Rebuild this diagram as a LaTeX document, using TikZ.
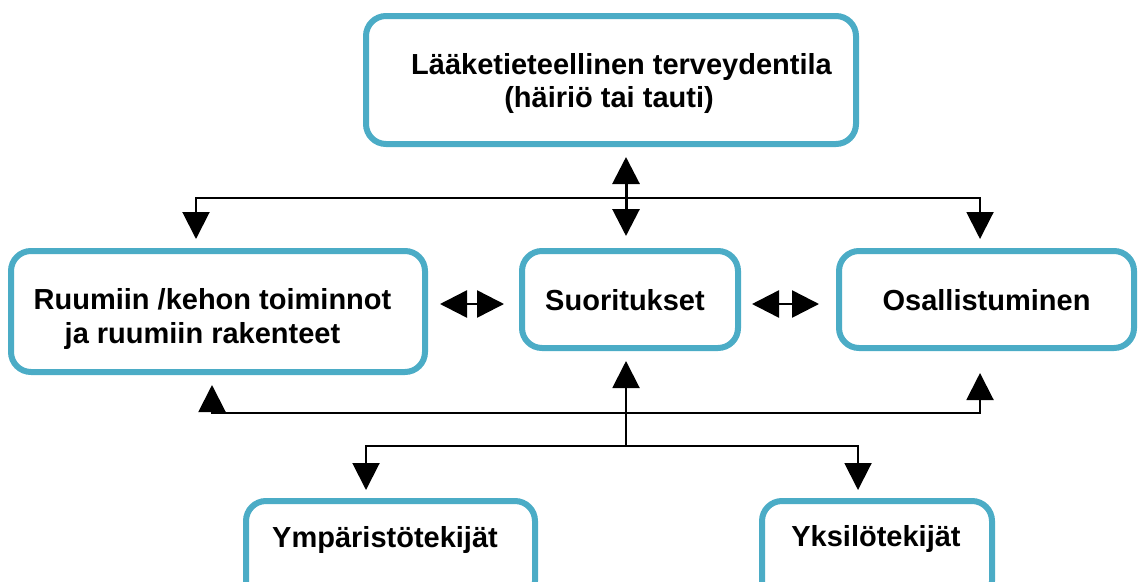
\documentclass[tikz,border=0pt]{standalone}
\usepackage{fontspec}
\setmainfont{Liberation Sans}
\usetikzlibrary{arrows.meta,calc}
\definecolor{boxblue}{RGB}{75,172,198}
\begin{document}
\begin{tikzpicture}[x=1pt,y=-1pt,
  >={Triangle[length=27pt,width=27pt]},
  box/.style={draw=boxblue, line width=6pt, rounded corners=20pt, fill=white, inner sep=0pt, rectangle},
  txt/.style={font=\fontsize{29}{34}\selectfont\bfseries, inner sep=0pt, anchor=base},
  conn/.style={line width=2pt, black},
  dblv/.style={line width=3pt, black, <->},
  dblh/.style={line width=2.5pt, black, <->}]
\useasboundingbox (0,0) rectangle (1139,581);
\clip (0,0) rectangle (1139,581);
% boxes
\node[box, minimum width=490pt, minimum height=128pt] (top) at (611,80) {};
\node[box, minimum width=414pt, minimum height=121pt] (left) at (218,311.5) {};
\node[box, minimum width=216pt, minimum height=97pt] (mid) at (630,299.5) {};
\node[box, minimum width=295pt, minimum height=97pt] (right) at (986.5,299.5) {};
\node[box, minimum width=289pt, minimum height=100pt] (envf) at (390.5,551) {};
\node[box, minimum width=230pt, minimum height=100pt] (persf) at (877,551) {};
% texts
\node[txt] (topA) at (621.5,74) {Lääketieteellinen terveydentila};
\node[txt] (topB) at (609,107.5) {(häiriö tai tauti)};
\node[txt] (leftA) at (212.5,309) {Ruumiin /kehon toiminnot};
\node[txt] (leftB) at (202.5,343) {ja ruumiin rakenteet};
\node[txt] (midT) at (625,310) {Suoritukset};
\node[txt] (rightT) at (986.5,310) {Osallistuminen};
\node[txt] (envT) at (385,547) {Ympäristötekijät};
\node[txt] (persT) at (876,546) {Yksilötekijät};
% coordinates
\coordinate (hubT) at (626,198);
\coordinate (dnL) at (196,239);
\coordinate (dnR) at (980,239);
\coordinate (rowY) at (0,304);
\coordinate (hubB) at (626,446);
\coordinate (busL) at (212,413);
\coordinate (busR) at (980,413);
\coordinate (upL) at (212,385);
\coordinate (upR) at (980,373);
\coordinate (upM) at (626,361);
\coordinate (dnEnv) at (366,490);
\coordinate (dnPers) at (858,490);
% connectors
\draw[conn,<->] (dnL) |- (hubT) -| (dnR);
\draw[dblv] ([yshift=-10pt]top.south -| hubT) -- ([yshift=12pt]mid.north -| hubT);
\draw[dblh] ([xshift=12pt]left.east |- rowY) -- ([xshift=-15pt]mid.west |- rowY);
\draw[dblh] ([xshift=11pt]mid.east |- rowY) -- ([xshift=-17pt]right.west |- rowY);
\draw[conn,<->] (upL) -- (busL) -- (busR) -- (upR);
\draw[conn,->] (hubB) -- (upM);
\draw[conn,<->] (dnEnv) |- (hubB) -| (dnPers);
\end{tikzpicture}
\end{document}
